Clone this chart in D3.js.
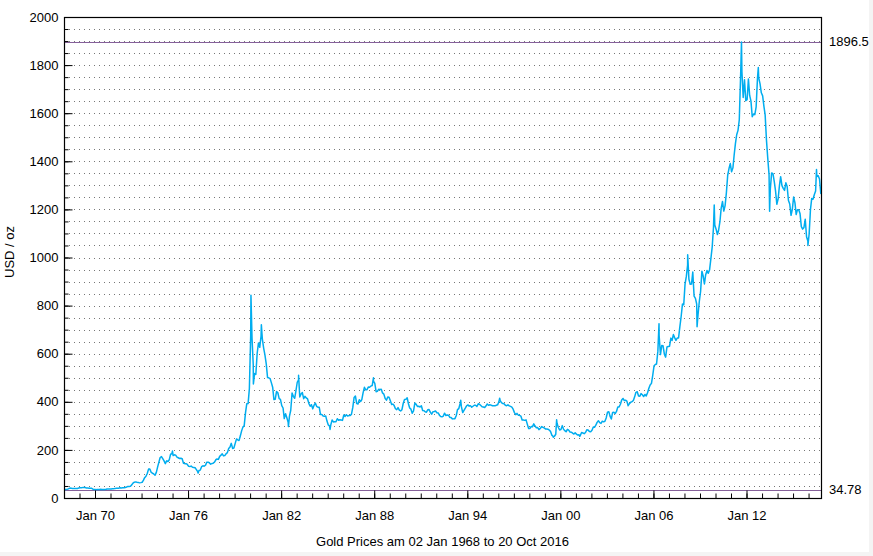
<!DOCTYPE html>
<html><head><meta charset="utf-8">
<script src="https://cdn.jsdelivr.net/npm/d3@7"></script>
<style>
html,body{margin:0;padding:0;background:#f4f4f4;}
svg{display:block;font-family:"Liberation Sans",Arial,Helvetica,sans-serif;}
</style></head>
<body>
<svg id="chart" width="873" height="556"></svg>
<script>
// Monthly gold prices (USD/oz, AM fix), starting Jan 1968
const seriesStart = [1968, 0];
const monthlyPrices = [
  35.2,35.2,36.4,37.9,41.0,41.1,39.5,39.2,39.8,39.4,39.8,41.3, // 1968
  42.3,42.6,43.4,43.6,43.5,41.2,41.6,41.0,40.6,40.3,36.6,35.2, // 1969
  34.9,35.0,35.1,35.6,35.9,35.4,35.3,35.4,36.2,37.5,37.4,37.4, // 1970
  37.9,38.7,38.9,39.0,40.5,40.1,41.0,42.7,42.0,42.5,42.9,43.5, // 1971
  45.8,48.3,48.3,49.0,54.6,62.1,65.7,67.0,65.5,64.9,62.9,63.9, // 1972
  65.1,74.2,84.4,90.5,102.0,120.1,120.2,106.8,103.0,100.1,94.8,106.7, // 1973
  129.2,150.2,168.4,172.2,163.3,154.1,143.0,154.6,151.8,158.8,181.7,183.9, // 1974
  176.3,179.6,178.2,170.1,167.4,164.2,165.2,163.1,144.6,142.8,142.8,139.3, // 1975
  131.5,131.0,132.6,127.9,126.8,125.6,118.1,109.4,114.4,116.0,130.2,133.7, // 1976
  132.3,136.2,148.2,149.2,146.7,140.8,143.2,144.8,149.5,159.0,162.1,160.5, // 1977
  173.2,178.2,183.7,175.1,176.3,183.7,188.7,206.1,212.5,227.3,206.1,207.8, // 1978
  227.3,245.7,242.0,239.2,257.5,279.1,294.7,300.8,355.1,392.0,392.6,455.1, // 1979
  675.3,665.3,553.6,517.4,513.8,600.7,644.3,626.5,673.6,661.2,623.5,594.9, // 1980
  557.4,500.5,499.8,496.6,479.7,460.8,409.3,410.9,443.2,437.7,413.4,410.1, // 1981
  384.1,374.2,330.2,350.5,333.9,314.6,339.1,364.8,436.4,422.6,414.7,445.7, // 1982
  481.3,491.6,419.8,432.8,438.4,413.1,422.8,416.1,411.8,393.7,381.7,388.0, // 1983
  370.6,385.9,394.5,381.3,377.4,377.8,347.5,347.7,341.1,340.2,341.2,319.9, // 1984
  303.9,298.9,303.9,324.5,316.4,316.8,317.3,329.8,323.5,325.5,324.6,322.8, // 1985
  345.3,339.3,346.4,340.5,342.6,342.6,348.7,376.8,418.2,424.1,392.8,391.1, // 1986
  408.3,401.2,408.8,438.4,460.2,449.6,450.5,461.1,460.5,465.4,467.7,486.3, // 1987
  476.7,442.2,443.5,451.8,451.5,452.1,437.1,431.9,413.8,406.8,420.1,418.9, // 1988
  404.2,388.5,390.4,384.2,371.1,367.4,375.8,365.5,361.9,367.1,393.9,409.4, // 1989
  410.1,416.8,393.1,374.3,369.4,352.3,362.5,394.8,389.2,380.7,381.8,378.2, // 1990
  383.6,363.8,363.3,358.4,356.8,366.7,367.7,356.4,348.7,358.6,359.7,361.5, // 1991
  354.5,353.9,344.3,338.6,337.4,340.8,352.7,342.9,345.4,344.4,335.0,334.8, // 1992
  329.0,329.3,330.0,342.1,367.2,371.9,392.0,379.8,355.3,364.2,373.6,383.3, // 1993
  387.0,382.0,384.0,377.3,381.4,385.6,385.5,380.4,391.6,389.8,384.4,379.3, // 1994
  378.6,376.5,382.1,391.0,385.2,387.6,386.2,383.7,383.1,383.1,385.5,387.4, // 1995
  400.0,404.8,396.3,392.8,391.8,385.3,383.5,387.5,383.1,381.1,377.9,369.1, // 1996
  355.0,346.6,351.8,344.5,343.8,340.8,324.1,324.0,322.8,324.9,306.0,288.7, // 1997
  289.2,297.5,295.9,308.4,299.1,292.3,292.9,284.1,288.8,296.9,294.1,291.6, // 1998
  287.1,287.3,286.0,282.6,276.4,261.3,256.1,256.7,265.1,310.7,293.2,283.1, // 1999
  284.6,300.9,286.4,280.0,275.3,285.7,282.0,274.5,273.7,270.0,266.0,271.5, // 2000
  265.5,261.9,263.0,260.5,272.4,270.2,267.5,272.4,283.4,283.1,276.2,275.9, // 2001
  281.7,295.5,294.0,302.7,314.5,321.2,313.3,310.3,319.2,316.6,319.2,332.6, // 2002
  356.9,359.0,340.6,328.2,355.7,356.4,351.0,359.8,378.9,378.9,389.9,407.6, // 2003
  414.0,405.3,406.7,403.0,383.8,392.4,398.1,400.5,405.3,420.5,439.4,442.1, // 2004
  424.0,423.4,434.0,429.2,421.9,430.7,424.5,437.9,456.0,469.9,476.7,510.1, // 2005
  549.9,555.0,557.1,610.6,675.4,596.2,633.7,632.6,598.2,585.8,627.8,629.8, // 2006
  631.2,664.8,654.9,679.4,666.9,655.5,665.3,665.4,712.7,754.6,806.3,803.2, // 2007
  889.6,922.3,968.4,909.7,888.7,889.5,939.8,839.0,829.9,806.6,760.9,816.1, // 2008
  858.7,943.2,924.3,890.2,928.6,945.7,934.2,949.4,996.6,1043.2,1127.0,1134.7, // 2009
  1117.9,1095.4,1113.3,1148.7,1205.4,1232.9,1193.0,1215.8,1271.0,1342.0,1369.9,1390.6, // 2010
  1356.4,1372.7,1424.0,1473.8,1510.4,1528.7,1572.8,1755.8,1771.9,1665.2,1738.9,1652.2, // 2011
  1656.1,1742.6,1673.8,1650.1,1585.5,1596.7,1593.9,1626.0,1744.5,1746.6,1721.6,1684.8, // 2012
  1671.9,1627.6,1593.1,1487.9,1414.0,1343.4,1285.5,1351.7,1348.6,1316.6,1275.9,1221.5, // 2013
  1244.3,1299.6,1336.1,1299.0,1287.5,1279.1,1310.6,1295.1,1236.6,1222.5,1175.3,1200.6, // 2014
  1251.8,1227.1,1178.6,1198.9,1198.6,1181.5,1128.3,1117.9,1124.8,1159.3,1086.4,1068.3, // 2015
  1097.9,1199.5,1245.1,1242.3,1260.9,1276.4,1336.7,1340.2,1326.6,1266.6 // 2016
];
// Daily extremes visible in the picture
const extremeDates = ["1968-01-02","1969-03-25","1970-01-20","1974-12-30","1976-08-25","1980-01-21","1980-03-18","1980-09-22","1982-06-21","1983-02-15","1985-02-25","1987-12-14","1993-07-30","1996-02-02","1999-07-20","1999-10-05","2001-04-02","2006-05-12","2008-03-17","2008-10-24","2009-12-02","2011-09-05","2012-10-05","2013-06-28","2015-12-17","2016-07-06","2016-10-20"];
const extremeValues = [35.19,44.0,34.78,195.0,103.5,843.0,474.0,720.0,297.0,510.0,285.0,500.0,406.0,415.0,252.8,325.0,256.0,725.0,1011.0,712.0,1218.0,1896.5,1790.0,1192.0,1050.0,1366.0,1267.0];

const yMajorTicks = [0,200,400,600,800,1000,1200,1400,1600,1800,2000];
const yMinorStep = 50;
const xMajorYears = [1970,1976,1982,1988,1994,2000,2006,2012];
const refValues = [1896.5, 34.78];
const refLabels = ["1896.5", "34.78"];
const titleText = "Gold Prices am 02 Jan 1968 to 20 Oct 2016";
const yTitle = "USD / oz";

const parse = d3.timeParse("%Y-%m-%d");
let pts = monthlyPrices.map((v,i) => ({d: new Date(seriesStart[0], seriesStart[1] + i, 15), v}));
extremeDates.forEach((s,i) => pts.push({d: parse(s), v: extremeValues[i]}));
pts.sort((a,b) => a.d - b.d);

const svg = d3.select("#chart");
svg.append("rect").attr("x",0).attr("y",0).attr("width",869).attr("height",552).attr("fill","#fff");

const L = 64, R = 821, T = 17, B = 498;
const FS = 13;
const x = d3.scaleTime().domain([parse("1968-01-02"), parse("2016-10-20")]).range([L, R]);
const y = d3.scaleLinear().domain([0, 2000]).range([B, T]);

// grid
const gridVals = d3.range(yMinorStep, 2000, yMinorStep);
svg.append("g").selectAll("line").data(gridVals).join("line")
  .attr("x1", L).attr("x2", R).attr("y1", d => Math.round(y(d)) + 0.5).attr("y2", d => Math.round(y(d)) + 0.5)
  .attr("stroke", "#777").attr("stroke-width", 1).attr("stroke-dasharray", "1,4");

// reference lines
svg.append("g").selectAll("line").data(refValues).join("line")
  .attr("x1", L).attr("x2", R).attr("y1", d => Math.round(y(d)) + 0.5).attr("y2", d => Math.round(y(d)) + 0.5)
  .attr("stroke", "#85609a").attr("stroke-width", 1);

// line
const line = d3.line().x(d => x(d.d)).y(d => y(d.v));
svg.append("path").datum(pts).attr("d", line).attr("fill", "none")
  .attr("stroke", "#00adef").attr("stroke-width", 1.5).attr("stroke-linejoin", "round");

// y axis
const yAxis = d3.axisLeft(y).tickValues(yMajorTicks).tickSizeInner(-8).tickSizeOuter(0).tickPadding(6).tickFormat(d3.format("d"));
svg.append("g").attr("transform", `translate(${L+0.5},0)`).call(yAxis);
const yMinor = d3.axisLeft(y).tickValues(gridVals).tickSizeInner(-4).tickSizeOuter(0).tickFormat("");
svg.append("g").attr("transform", `translate(${L+0.5},0)`).call(yMinor);

// x axis
const xAxis = d3.axisBottom(x).tickValues(xMajorYears.map(yr => new Date(yr,0,1))).tickSizeInner(-8).tickSizeOuter(0).tickPadding(12).tickFormat(d3.timeFormat("Jan %y"));
svg.append("g").attr("transform", `translate(0,${B+0.5})`).call(xAxis);
const xMinor = d3.axisBottom(x).tickValues(d3.range(1969, 2017).map(yr => new Date(yr,0,1))).tickSizeInner(-5).tickSizeOuter(0).tickFormat("");
svg.append("g").attr("transform", `translate(0,${B+0.5})`).call(xMinor);

svg.selectAll(".domain").remove();
svg.selectAll(".tick line").attr("stroke", "#000");
svg.selectAll(".tick text").attr("font-size", FS).attr("fill", "#000").attr("font-family", "Liberation Sans, Arial, sans-serif");

// frame
svg.append("rect").attr("x", L+0.5).attr("y", T+0.5).attr("width", R-L).attr("height", B-T)
  .attr("fill", "none").attr("stroke", "#000").attr("stroke-width", 1.2);

// right labels
svg.append("g").selectAll("text").data(refValues).join("text")
  .attr("x", R + 8).attr("y", d => y(d)).attr("dy", "0.35em").attr("font-size", FS)
  .text((d,i) => refLabels[i]);

// titles
svg.append("text").attr("x", (L+R)/2).attr("y", 546).attr("text-anchor", "middle").attr("font-size", FS).text(titleText);
svg.append("text").attr("transform", `translate(14,252) rotate(-90)`).attr("text-anchor", "middle").attr("font-size", FS).text(yTitle);
</script>
</body></html>
